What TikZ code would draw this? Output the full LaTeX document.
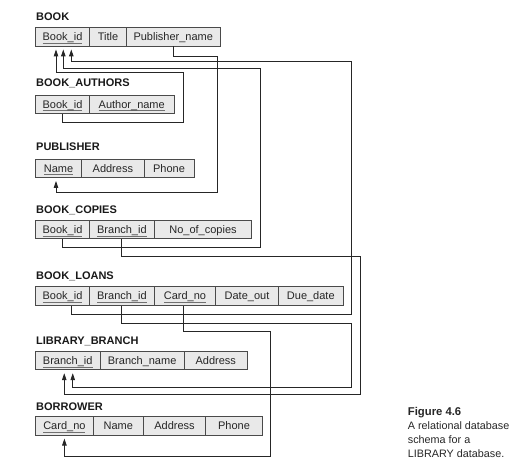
\documentclass[tikz,border=0pt]{standalone}
\usepackage{fontspec}
\setmainfont{Liberation Sans}
\usetikzlibrary{arrows.meta,calc}
\definecolor{cellfill}{HTML}{E9E9E9}
\definecolor{cellline}{HTML}{4A4A4A}
\definecolor{keyline}{HTML}{707070}
\newcommand\pkey[1]{\setbox0\hbox{#1}\rlap{\color{keyline}\rule[-3bp]{\wd0}{0.8bp}}\box0}
\tikzset{
  cell/.style={draw=cellline, fill=cellfill, line width=0.9bp, minimum height=18.5bp,
    inner sep=0pt, text height=8bp, text depth=0bp,
    font=\fontsize{11bp}{13bp}\selectfont, text=black!85},
  reltitle/.style={anchor=base west, inner sep=0pt, font=\bfseries\fontsize{11bp}{13bp}\selectfont, text=black!90},
  fk/.style={draw=black!85, line width=0.9bp, -{Triangle[length=7bp,width=4.5bp]}},
  captext/.style={anchor=base west, inner sep=0pt, font=\fontsize{10.8bp}{13bp}\selectfont, text=black!85},
}
\begin{document}
\begin{tikzpicture}[x=1bp,y=-1bp]
\useasboundingbox (0,0) rectangle (524,466);

% BOOK
\node[reltitle] (t_book) at (36,20.7) {BOOK};
\node[cell, minimum width=54bp] (book_id) at (62.5,36.75) {\pkey{Book\_id}};
\node[cell, minimum width=37bp] (title) at (108,36.75) {Title};
\node[cell, minimum width=93.5bp] (pubname) at (173.25,36.75) {Publisher\_name};

% BOOK_AUTHORS
\node[reltitle] (t_ba) at (36,86.7) {BOOK\_AUTHORS};
\node[cell, minimum width=54bp] (ba_bookid) at (62.5,104.25) {\pkey{Book\_id}};
\node[cell, minimum width=84.5bp] (ba_author) at (131.75,104.25) {\pkey{Author\_name}};

% PUBLISHER
\node[reltitle] (t_pub) at (36,150.7) {PUBLISHER};
\node[cell, minimum width=46.2bp] (pub_name) at (58.6,168.25) {\pkey{Name}};
\node[cell, minimum width=62.3bp] (pub_addr) at (112.85,168.25) {Address};
\node[cell, minimum width=50bp] (pub_phone) at (169,168.25) {Phone};

% BOOK_COPIES
\node[reltitle] (t_bc) at (36,214) {BOOK\_COPIES};
\node[cell, minimum width=54bp] (bc_bookid) at (62.5,229.5) {\pkey{Book\_id}};
\node[cell, minimum width=64.8bp] (bc_branch) at (121.9,229.5) {\pkey{Branch\_id}};
\node[cell, minimum width=97.4bp] (bc_copies) at (203,229.5) {No\_of\_copies};

% BOOK_LOANS
\node[reltitle] (t_bl) at (36,279) {BOOK\_LOANS};
\node[cell, minimum width=54bp] (bl_bookid) at (62.5,295.9) {\pkey{Book\_id}};
\node[cell, minimum width=64.8bp] (bl_branch) at (121.9,295.9) {\pkey{Branch\_id}};
\node[cell, minimum width=61.4bp] (bl_card) at (185,295.9) {\pkey{Card\_no}};
\node[cell, minimum width=62.6bp] (bl_dateout) at (247,295.9) {Date\_out};
\node[cell, minimum width=65bp] (bl_due) at (310.8,295.9) {Due\_date};

% LIBRARY_BRANCH
\node[reltitle] (t_lb) at (36,344.3) {LIBRARY\_BRANCH};
\node[cell, minimum width=64.5bp] (lb_branch) at (67.75,360.5) {\pkey{Branch\_id}};
\node[cell, minimum width=84.3bp] (lb_name) at (142.15,360.5) {Branch\_name};
\node[cell, minimum width=63bp] (lb_addr) at (215.8,360.5) {Address};

% BORROWER
\node[reltitle] (t_bo) at (36,410) {BORROWER};
\node[cell, minimum width=57.8bp] (bo_card) at (64.4,425.85) {\pkey{Card\_no}};
\node[cell, minimum width=50bp] (bo_name) at (118.3,425.85) {Name};
\node[cell, minimum width=62.4bp] (bo_addr) at (174.5,425.85) {Address};
\node[cell, minimum width=56.6bp] (bo_phone) at (234,425.85) {Phone};

% arrow targets
\coordinate (tb1) at ($(book_id.south)+(-6.5,3)$);
\coordinate (tb2) at ($(book_id.south)+(0.8,3)$);
\coordinate (tb3) at ($(book_id.south)+(8.8,3)$);
\coordinate (tp) at ($(pub_name.south)+(-2.6,3)$);
\coordinate (tl1) at ($(lb_branch.south)+(-3.5,3)$);
\coordinate (tl2) at ($(lb_branch.south)+(5,3)$);
\coordinate (tbo) at ($(bo_card.south)+(0,3)$);

% connectors
\draw[fk] (ba_bookid.south) |- (183.3,122.7) -- (183.3,72.7) -| (tb1);
\draw[fk] (bc_bookid.south) |- (260,247.3) -- (260,68.3) -| (tb2);
\draw[fk] ($(bl_bookid.south)+(9,0)$) |- (351.7,314.3) -- (351.7,61.7) -| (tb3);
\draw[fk] (pubname.south) |- (217.7,56) -- (217.7,192.3) -| (tp);
\draw[fk] (bc_branch.south) |- (360,256) -- (360,394) -| (tl1);
\draw[fk] (bl_branch.south) |- (351.7,323.3) -- (351.7,387.3) -| (tl2);
\draw[fk] ($(bl_card.south)+(-1.7,0)$) |- (270,331) -- (270,456) -| (tbo);

% caption
\node[captext, font=\bfseries\fontsize{11.3bp}{13bp}\selectfont] (cap1) at (407.7,415.5) {Figure 4.6};
\node[captext] (cap2) at (407.7,429) {A relational database};
\node[captext] (cap3) at (407.7,443.3) {schema for a};
\node[captext] (cap4) at (407.7,457.3) {LIBRARY database.};
\end{tikzpicture}
\end{document}
